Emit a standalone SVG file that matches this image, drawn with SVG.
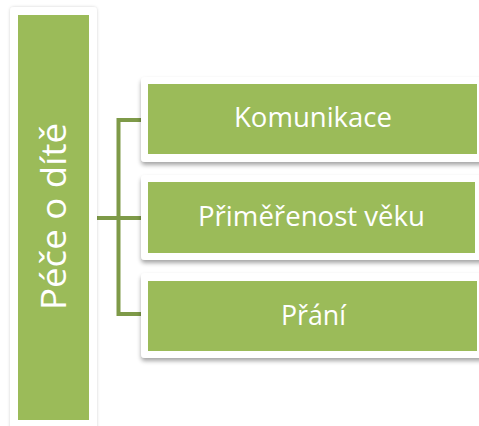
<svg xmlns="http://www.w3.org/2000/svg" width="479" height="426" viewBox="0 0 479 426">
  <defs>
    <filter id="frameShadow" x="-20%" y="-20%" width="140%" height="140%">
      <feDropShadow dx="0" dy="0" stdDeviation="1.5" flood-color="#000" flood-opacity="0.18"/>
    </filter>
    <filter id="boxShadow" x="-10%" y="-20%" width="120%" height="150%">
      <feDropShadow dx="0" dy="3" stdDeviation="2" flood-color="#000" flood-opacity="0.35"/>
    </filter>
  </defs>
  <style>
    .frame { fill: #ffffff; }
    .fill { fill: #9BBB59; }
    .label { fill: #ffffff; font-family: "Open Sans", "Noto Sans", "Liberation Sans", sans-serif; font-size: 27px; text-anchor: middle; }
    .root-label { font-size: 35px; }
    .link { fill: none; stroke: #7E9A48; stroke-width: 4; }
  </style>
  <rect width="479" height="426" fill="#ffffff"/>

  <!-- connectors -->
  <g id="connectors">
    <path class="link" d="M97 218 H118.5"/>
    <path class="link" d="M141 120 H118.5 V314 H141"/>
    <path class="link" d="M118.5 218 H141"/>
  </g>

  <!-- root node -->
  <g id="root">
    <rect class="frame" x="10" y="7" width="87" height="430" rx="4" filter="url(#frameShadow)"/>
    <rect class="fill" x="18" y="15" width="71" height="405"/>
    <text class="label root-label" transform="translate(66 216.5) rotate(-90)" x="0" y="0" textLength="187" lengthAdjust="spacingAndGlyphs">Péče o dítě</text>
  </g>

  <!-- child nodes -->
  <g id="komunikace">
    <rect class="frame" x="141" y="77" width="350" height="85" rx="4" filter="url(#boxShadow)"/>
    <rect class="fill" x="148" y="84" width="329" height="70"/>
    <text class="label" x="313" y="127" textLength="158" lengthAdjust="spacingAndGlyphs">Komunikace</text>
  </g>

  <g id="primerenost">
    <rect class="frame" x="141" y="175" width="350" height="85" rx="4" filter="url(#boxShadow)"/>
    <rect class="fill" x="148" y="182" width="327" height="71"/>
    <text class="label" x="311.5" y="226" textLength="227" lengthAdjust="spacingAndGlyphs">Přiměřenost věku</text>
  </g>

  <g id="prani">
    <rect class="frame" x="141" y="273" width="350" height="85" rx="4" filter="url(#boxShadow)"/>
    <rect class="fill" x="148" y="281" width="329" height="70"/>
    <text class="label" x="313.5" y="325" textLength="65" lengthAdjust="spacingAndGlyphs">Přání</text>
  </g>
</svg>
